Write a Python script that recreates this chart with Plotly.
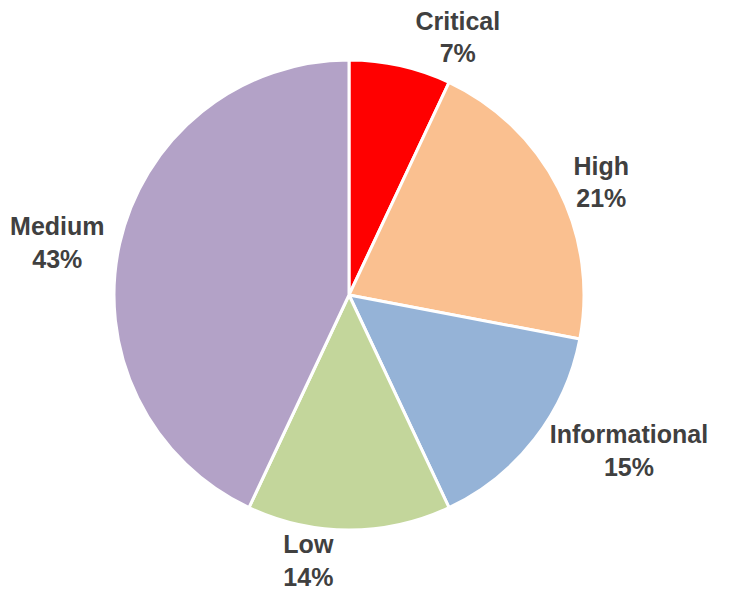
import plotly.graph_objects as go

categories = ["Critical", "High", "Informational", "Low", "Medium"]
values = [7, 21, 15, 14, 43]
colors = ["#FF0000", "#FAC090", "#95B3D7", "#C3D69B", "#B3A2C7"]

fig = go.Figure(go.Pie(
    labels=categories,
    values=values,
    sort=False,
    direction="clockwise",
    rotation=0,
    automargin=False,
    marker=dict(colors=colors, line=dict(color="white", width=3)),
    texttemplate="<b>%{label}<br>%{percent:.0%}</b>",
    textposition="outside",
    textfont=dict(family="Liberation Sans, Arial, sans-serif", size=25, color="#404040"),
    showlegend=False,
    hoverinfo="label+percent",
))

fig.update_layout(
    width=735, height=592,
    margin=dict(l=106, r=159, t=52, b=70),
    paper_bgcolor="white",
    plot_bgcolor="white",
)

fig.write_html("out.html")
